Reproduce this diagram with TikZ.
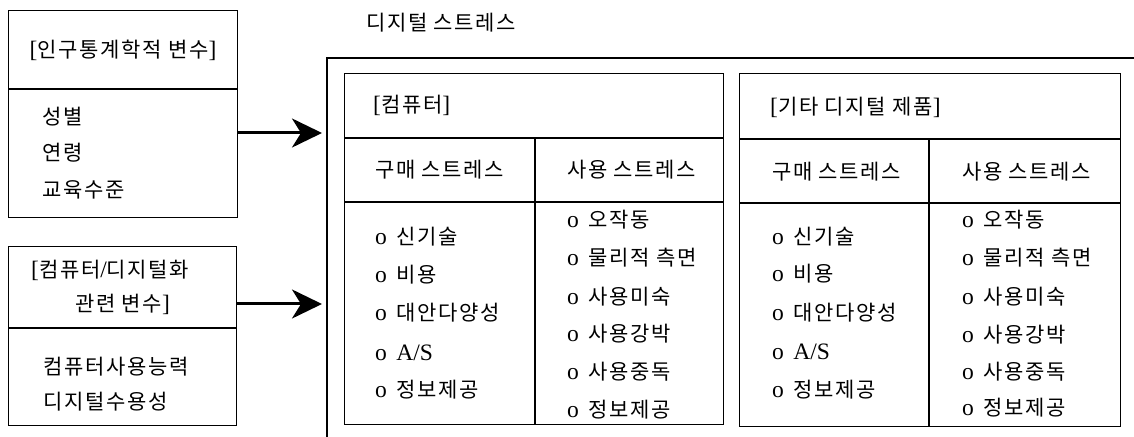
\documentclass[tikz,border=0pt]{standalone}
\usepackage{fontspec}
\setmainfont[LetterSpace=8]{Noto Sans CJK KR}
\newfontfamily\lat[Scale=1.12]{Liberation Serif}
\usetikzlibrary{arrows.meta}
\newcommand{\lb}{{\lat[}}
\newcommand{\rb}{{\lat]}}
\newcommand{\bul}{{\lat o}\hspace{0.45em}}
\begin{document}
\begin{tikzpicture}[x=1bp,y=-1bp, font=\fontsize{21bp}{25bp}\selectfont,
  box/.style={draw, line width=1.4bp, inner sep=0, anchor=north west},
  txt/.style={inner sep=0, anchor=west},
  ttl/.style={inner sep=0, anchor=center},
  divider/.style={line width=2.2bp},
  thin/.style={line width=1.4bp},
  arr/.style={line width=3bp, -{Stealth[length=30bp,width=29bp,inset=9bp]}}]
\useasboundingbox (0,0) rectangle (1134,437);

% left boxes
\node[box, minimum width=229bp, minimum height=207bp] (demo) at (8,10) {};
\draw[divider] (demo.west |- 0,89) -- (demo.east |- 0,89);
\node[ttl] (demoT) at (123,50) {\lb 인구통계학적 변수\rb};
\node[txt] (d1) at (42,117) {성별};
\node[txt] (d2) at (42,153) {연령};
\node[txt] (d3) at (42,190) {교육수준};

\node[box, minimum width=228bp, minimum height=179bp] (comp) at (8,246) {};
\draw[divider] (comp.west |- 0,328) -- (comp.east |- 0,328);
\node[txt] (cT1) at (31,270) {\lb 컴퓨터{\lat/}디지털화};
\node[txt] (cT2) at (75,304) {관련 변수\rb};
\node[txt] (c1) at (43,367) {컴퓨터사용능력};
\node[txt] (c2) at (43,402) {디지털수용성};

% outer frame (open to right and bottom)
\coordinate (oTR) at (1134,58);
\coordinate (oTL) at (327,58);
\coordinate (oBL) at (327,437);
\draw[line width=2.4bp] (oTR) -- (oTL) -- (oBL);
\node[txt] (title) at (366,23) {디지털 스트레스};

% arrows
\coordinate (a1) at (322,133);
\coordinate (a2) at (322,304);
\draw[arr] (demo.east |- a1) -- (a1);
\draw[arr] (comp.east |- a2) -- (a2);

% computer box
\node[box, minimum width=379bp, minimum height=351bp] (pc) at (344,73) {};
\draw[thin] (pc.west |- 0,138) -- (pc.east |- 0,138);
\draw[thin] (pc.west |- 0,202) -- (pc.east |- 0,202);
\draw[thin] (535,138) -- (pc.south -| 535,0);
\node[txt] (pcT) at (373,105) {\lb 컴퓨터\rb};
\node[txt] (pcB) at (375,170) {구매 스트레스};
\node[txt] (pcU) at (567,170) {사용 스트레스};
\node[txt] (pb1) at (375,237) {\bul 신기술};
\node[txt] (pb2) at (375,275) {\bul 비용};
\node[txt] (pb3) at (375,313) {\bul 대안다양성};
\node[txt] (pb4) at (375,353) {\bul {\lat A/S}};
\node[txt] (pb5) at (375,390) {\bul 정보제공};
\node[txt] (pu1) at (567,220) {\bul 오작동};
\node[txt] (pu2) at (567,258) {\bul 물리적 측면};
\node[txt] (pu3) at (567,297) {\bul 사용미숙};
\node[txt] (pu4) at (567,334) {\bul 사용강박};
\node[txt] (pu5) at (567,372) {\bul 사용중독};
\node[txt] (pu6) at (567,410) {\bul 정보제공};

% other digital products box
\node[box, minimum width=381bp, minimum height=353bp] (dp) at (739,73) {};
\draw[thin] (dp.west |- 0,139) -- (dp.east |- 0,139);
\draw[thin] (dp.west |- 0,203) -- (dp.east |- 0,203);
\draw[thin] (929,139) -- (dp.south -| 929,0);
\node[txt] (dpT) at (770,107) {\lb 기타 디지털 제품\rb};
\node[txt] (dpB) at (772,172) {구매 스트레스};
\node[txt] (dpU) at (962,172) {사용 스트레스};
\node[txt] (db1) at (772,237) {\bul 신기술};
\node[txt] (db2) at (772,274) {\bul 비용};
\node[txt] (db3) at (772,313) {\bul 대안다양성};
\node[txt] (db4) at (772,352) {\bul {\lat A/S}};
\node[txt] (db5) at (772,390) {\bul 정보제공};
\node[txt] (du1) at (962,220) {\bul 오작동};
\node[txt] (du2) at (962,258) {\bul 물리적 측면};
\node[txt] (du3) at (962,297) {\bul 사용미숙};
\node[txt] (du4) at (962,335) {\bul 사용강박};
\node[txt] (du5) at (962,372) {\bul 사용중독};
\node[txt] (du6) at (962,408) {\bul 정보제공};
\end{tikzpicture}
\end{document}
